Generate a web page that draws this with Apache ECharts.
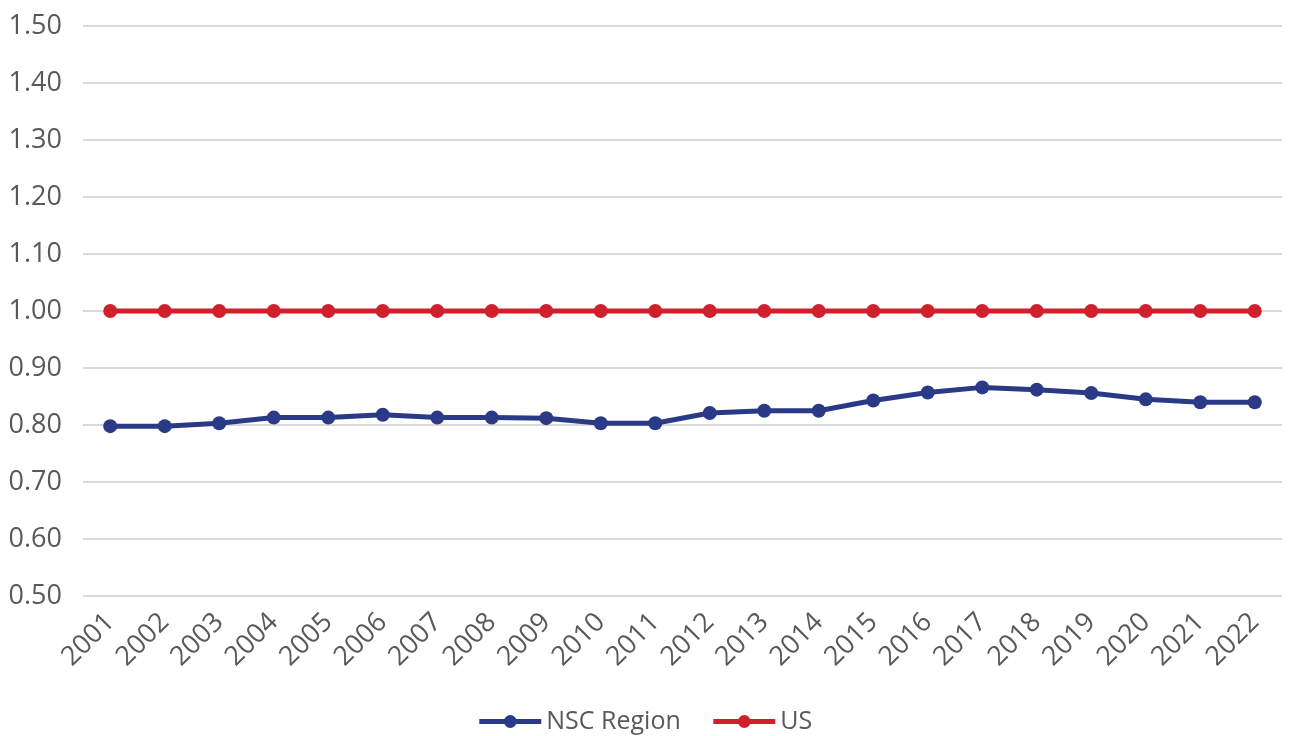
<!DOCTYPE html>
<html>
<head>
<meta charset="utf-8">
<script src="https://cdn.jsdelivr.net/npm/echarts@6/dist/echarts.min.js"></script>
<style>
  html, body { margin: 0; padding: 0; background: #ffffff; }
  #chart { width: 1289px; height: 736px; }
</style>
</head>
<body>
<div id="chart"></div>
<script>
// Index values by year (US = 1.00 baseline)
const years = ['2001','2002','2003','2004','2005','2006','2007','2008','2009','2010','2011',
               '2012','2013','2014','2015','2016','2017','2018','2019','2020','2021','2022'];
const nscRegion = [0.798, 0.798, 0.803, 0.813, 0.813, 0.818, 0.813, 0.813, 0.812, 0.803, 0.803,
                   0.821, 0.825, 0.825, 0.843, 0.857, 0.866, 0.862, 0.856, 0.845, 0.840, 0.840];
const us = [1.00, 1.00, 1.00, 1.00, 1.00, 1.00, 1.00, 1.00, 1.00, 1.00, 1.00,
            1.00, 1.00, 1.00, 1.00, 1.00, 1.00, 1.00, 1.00, 1.00, 1.00, 1.00];
const seriesNames = ['NSC Region', 'US'];

const textColor = '#595959';
const fontFamily = '"Open Sans", "Liberation Sans", sans-serif';

const chart = echarts.init(document.getElementById('chart'), null, { renderer: 'canvas' });

function lineSeries(name, data, color) {
  return {
    name: name,
    type: 'line',
    data: data,
    symbol: 'circle',
    symbolSize: 14,
    showSymbol: true,
    lineStyle: { color: color, width: 5 },
    itemStyle: { color: color },
    emphasis: { disabled: true },
    animation: false
  };
}

chart.setOption({
  animation: false,
  backgroundColor: '#ffffff',
  grid: { left: 83, right: 7, top: 26, bottom: 140, containLabel: false },
  xAxis: {
    type: 'category',
    data: years,
    boundaryGap: true,
    axisLine: { show: false },
    axisTick: { show: false },
    axisLabel: {
      rotate: 45,
      color: textColor,
      fontFamily: fontFamily,
      fontSize: 27,
      margin: 22,
      interval: 0
    },
    splitLine: { show: false }
  },
  yAxis: {
    type: 'value',
    min: 0.5,
    max: 1.5,
    interval: 0.1,
    axisLine: { show: false },
    axisTick: { show: false },
    axisLabel: {
      color: textColor,
      fontFamily: fontFamily,
      fontSize: 27,
      margin: 21,
      formatter: v => v.toFixed(2)
    },
    splitLine: { lineStyle: { color: '#d9d9d9', width: 2 } }
  },
  legend: {
    data: seriesNames,
    bottom: -3,
    left: 'center',
    itemWidth: 62,
    itemHeight: 16,
    itemGap: 30,
    lineStyle: { width: 5 },
    textStyle: { color: textColor, fontFamily: fontFamily, fontSize: 25 }
  },
  series: [
    lineSeries(seriesNames[0], nscRegion, '#2b3a86'),
    lineSeries(seriesNames[1], us, '#d0202b')
  ]
});
</script>
</body>
</html>
